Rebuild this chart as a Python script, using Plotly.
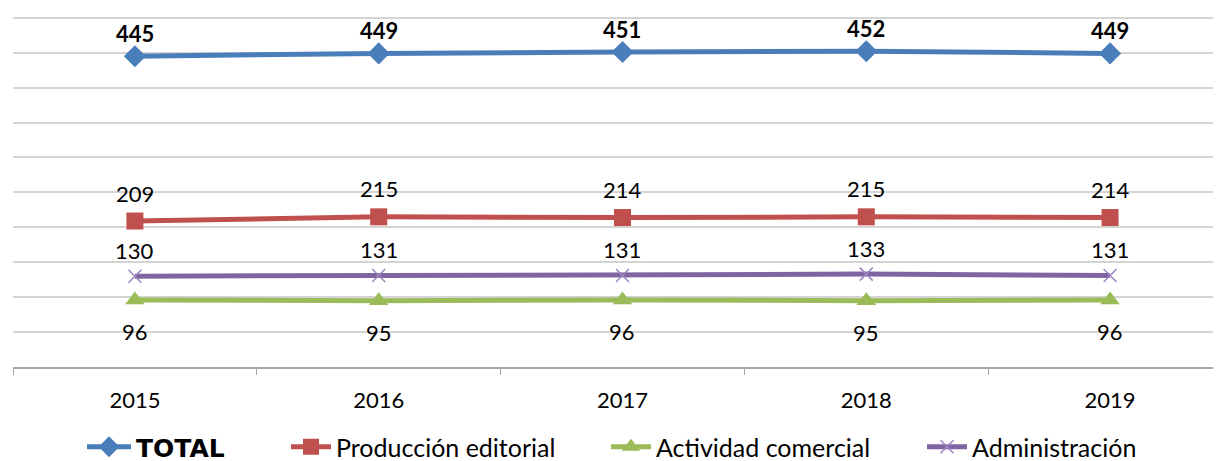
import plotly.graph_objects as go

years = ["2015", "2016", "2017", "2018", "2019"]
total = [445, 449, 451, 452, 449]
produccion = [209, 215, 214, 215, 214]
actividad = [96, 95, 96, 95, 96]
administracion = [130, 131, 131, 133, 131]

names = ["<b>TOTAL</b>", "Producción editorial", "Actividad comercial", "Administración"]
colors = ["#4A7EBB", "#C0504D", "#9BBB59", "#8064A2"]

FONT = "Lato"

fig = go.Figure()

fig.add_trace(go.Scatter(
    x=years, y=total, name=names[0], mode="lines+markers", legend="legend",
    line=dict(color=colors[0], width=5),
    marker=dict(symbol="diamond", size=17, color=colors[0]),
))
fig.add_trace(go.Scatter(
    x=years, y=produccion, name=names[1], mode="lines+markers", legend="legend2",
    line=dict(color=colors[1], width=5),
    marker=dict(symbol="square", size=17, color=colors[1]),
))
fig.add_trace(go.Scatter(
    x=years, y=actividad, name=names[2], mode="lines+markers", legend="legend3",
    line=dict(color=colors[2], width=5),
    marker=dict(symbol="triangle-up", size=17, color=colors[2]),
))
fig.add_trace(go.Scatter(
    x=years, y=administracion, name=names[3], mode="lines+markers", legend="legend4",
    line=dict(color=colors[3], width=5),
    marker=dict(symbol="x-thin-open", size=13, color="#9C85C0",
                line=dict(color="#9C85C0", width=1.5)),
))

idx = list(range(len(years)))
annotations = []
for xv, yv in zip(idx, total):
    annotations.append(dict(x=xv, y=yv, text=f"<b>{yv}</b>", showarrow=False,
                            yshift=23, font=dict(size=22, color="black", family=FONT)))
for xv, yv in zip(idx, produccion):
    annotations.append(dict(x=xv, y=yv, text=str(yv), showarrow=False,
                            yshift=28, font=dict(size=22, color="black", family=FONT)))
for xv, yv in zip(idx, administracion):
    annotations.append(dict(x=xv, y=yv, text=str(yv), showarrow=False,
                            yshift=26, font=dict(size=22, color="black", family=FONT)))
for xv, yv in zip(idx, actividad):
    annotations.append(dict(x=xv, y=yv, text=str(yv), showarrow=False,
                            yshift=-32, font=dict(size=22, color="black", family=FONT)))

# the page body adds an 8px offset; layout numbers below compensate for it
FIG_H = 461
leg_common = dict(orientation="h", xref="container", yref="container",
                  xanchor="left", yanchor="middle", y=22 / FIG_H,
                  font=dict(size=25, family=FONT, color="black"),
                  itemwidth=40, bgcolor="rgba(0,0,0,0)")
legend_x = [74, 278, 598, 914]

fig.update_layout(
    width=1221, height=FIG_H,
    margin=dict(l=5, r=8, t=7, b=102),
    paper_bgcolor="white", plot_bgcolor="white",
    font=dict(family=FONT, size=22, color="black"),
    showlegend=True,
    legend=dict(leg_common, x=legend_x[0] / 1221, itemwidth=44,
                font=dict(size=25, family="DejaVu Sans", color="black")),
    legend2=dict(leg_common, x=legend_x[1] / 1221),
    legend3=dict(leg_common, x=legend_x[2] / 1221),
    legend4=dict(leg_common, x=legend_x[3] / 1221),
    annotations=annotations,
)
fig.update_xaxes(
    type="category", range=[-0.5, 4.455], automargin=False,
    showgrid=False, showline=True, linecolor="#A6A6A6", linewidth=1.5,
    ticks="outside", tickson="boundaries", ticklen=6, tickcolor="#A6A6A6",
    ticklabelstandoff=13,
    tickfont=dict(size=22, family=FONT, color="black"),
)
fig.update_yaxes(
    range=[0, 504], dtick=50, showticklabels=False, automargin=False,
    showgrid=True, gridcolor="#D4D4D4", gridwidth=1.5,
    zeroline=False, showline=False, ticks="",
)

fig.write_html("out.html")
